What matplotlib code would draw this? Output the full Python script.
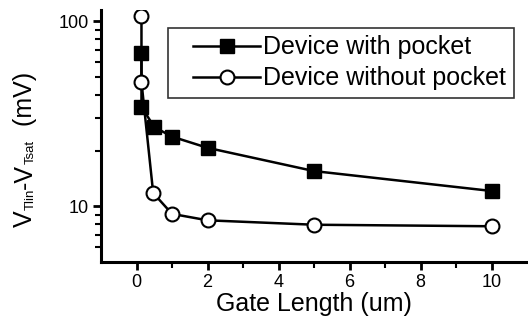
import matplotlib
matplotlib.use("Agg")
import matplotlib.pyplot as plt
from matplotlib.ticker import FixedLocator, NullFormatter, FixedFormatter
from matplotlib.legend_handler import HandlerLine2D

plt.rcParams['font.family'] = ['Liberation Sans', 'DejaVu Sans']

# data
gate_len_pocket = [0.14, 0.14, 0.5, 1, 2, 5, 10]
dvt_pocket = [67, 34.5, 26.8, 23.8, 20.7, 15.5, 12.1]

gate_len_nopocket = [0.14, 0.14, 0.47, 1, 2, 5, 10]
dvt_nopocket = [107, 47, 11.8, 9.1, 8.4, 7.95, 7.8]

xticks = [0, 2, 4, 6, 8, 10]
yticks = [10, 100]

fig = plt.figure(figsize=(5.28, 3.22), dpi=100)
ax = fig.add_axes([101/528, 60/322, 426/528, 252/322])

l1, = ax.plot(gate_len_pocket, dvt_pocket, '-s', color='black', lw=1.8,
              ms=9.5, mfc='black', mec='black', label='Device with pocket')
l2, = ax.plot(gate_len_nopocket, dvt_nopocket, '-o', color='black', lw=1.8,
              ms=10, mfc='white', mec='black', mew=1.5, label='Device without pocket')

ax.set_yscale('log')
ax.set_xlim(-1, 11)
ax.set_ylim(5, 115)

ax.xaxis.set_major_locator(FixedLocator(xticks))
ax.xaxis.set_minor_locator(FixedLocator([1, 3, 5, 7, 9]))
ax.yaxis.set_major_locator(FixedLocator(yticks))
ax.yaxis.set_major_formatter(FixedFormatter(['10', '100']))
ax.yaxis.set_minor_locator(FixedLocator([6, 7, 8, 9, 20, 30, 40, 50, 60, 70, 80, 90]))
ax.yaxis.set_minor_formatter(NullFormatter())

for s in ['top', 'right']:
    ax.spines[s].set_visible(False)
for s in ['left', 'bottom']:
    ax.spines[s].set_linewidth(2.2)

ax.tick_params(which='major', length=6, width=2, labelsize=13, direction='out', pad=2.5)
ax.tick_params(which='minor', length=4, width=1.5, direction='out')

ax.set_xlabel('Gate Length (um)', fontsize=18, labelpad=1)

# y label built from pieces so the subscripts can be small, like the original
ylab_parts = [('V', 18), ('Tlin', 9.5), ('-V', 18), ('Tsat', 9.5), ('  (mV)', 18)]
prev = fig.text(37/528, 95/322, ylab_parts[0][0], rotation=90, ha='right',
                va='bottom', fontsize=ylab_parts[0][1])
for txt, size in ylab_parts[1:]:
    prev = ax.annotate(txt, xy=(1, 1), xycoords=prev, rotation=90, ha='right',
                       va='bottom', fontsize=size, annotation_clip=False)

hmap = {l1: HandlerLine2D(xpad=0.7), l2: HandlerLine2D(xpad=0.7)}
leg = ax.legend(loc='upper left', bbox_to_anchor=(0.157, 0.929), borderaxespad=0,
                fontsize=18, frameon=True, fancybox=False, edgecolor='black',
                handlelength=3.4, handletextpad=0.12, labelspacing=0.28,
                borderpad=0.3, handler_map=hmap)
leg.get_frame().set_linewidth(1.2)

fig.savefig('out.png', dpi=100)
